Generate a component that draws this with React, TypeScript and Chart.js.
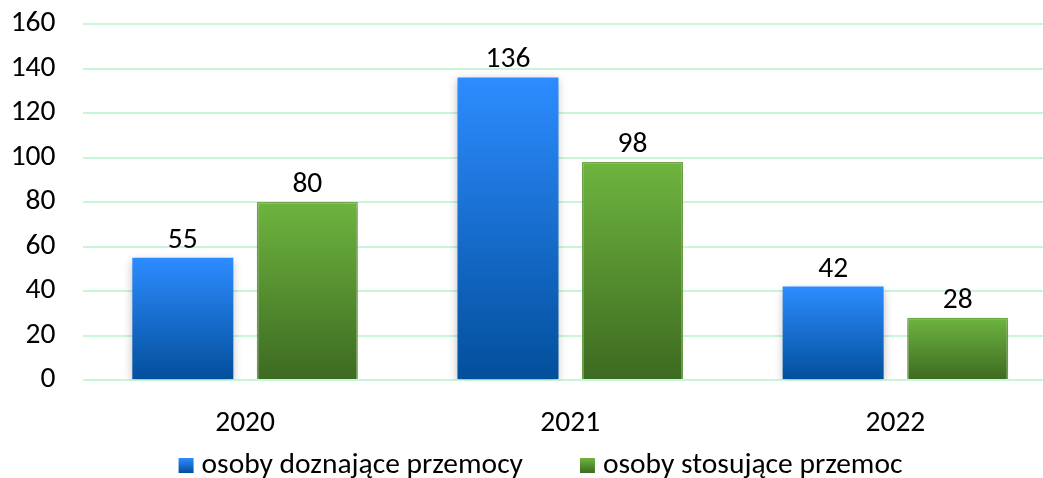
import React, { useEffect, useRef } from "react";
import { Chart, registerables } from "chart.js";

Chart.register(...registerables);

const categories = ["2020", "2021", "2022"];
const seriesNames = ["osoby doznające przemocy", "osoby stosujące przemoc"];
const victims = [55, 136, 42];
const perpetrators = [80, 98, 28];
const yTicks = [0, 20, 40, 60, 80, 100, 120, 140, 160];

const FONT = "Carlito, Lato, 'Open Sans', sans-serif";
const FS = 29.5;
const LEGEND_FS = 29.5;

const blueTop = "#2d8cff";
const blueBottom = "#024f9b";
const greenTop = "#6eb43f";
const greenBottom = "#3d6a21";

const barGradient = (top: string, bottom: string) => (c: any) => {
  const chart = c.chart;
  const ys = chart.scales && chart.scales.y;
  if (!chart.chartArea || !ys || c.raw === undefined) return bottom;
  const yTop = ys.getPixelForValue(c.raw);
  const yBase = ys.getPixelForValue(0);
  if (!isFinite(yTop) || !isFinite(yBase) || yTop === yBase) return bottom;
  const g = chart.ctx.createLinearGradient(0, yTop, 0, yBase);
  g.addColorStop(0, top);
  g.addColorStop(1, bottom);
  return g;
};

const labelPlugin = {
  id: "valueLabels",
  afterDatasetsDraw(chart: any) {
    const ctx = chart.ctx;
    ctx.save();
    ctx.font = `${FS}px ${FONT}`;
    ctx.fillStyle = "#000";
    ctx.textAlign = "center";
    ctx.textBaseline = "alphabetic";
    chart.data.datasets.forEach((ds: any, i: number) => {
      const meta = chart.getDatasetMeta(i);
      meta.data.forEach((bar: any, j: number) => {
        ctx.fillText(String(ds.data[j]), bar.x, bar.y - 10);
      });
    });
    ctx.restore();
  },
};

const shadowPlugin = {
  id: "barShadow",
  beforeDatasetsDraw(chart: any) {
    const ctx = chart.ctx;
    ctx.save();
    ctx.shadowColor = "rgba(0,0,0,0.28)";
    ctx.shadowBlur = 9;
    ctx.shadowOffsetX = 0;
    ctx.shadowOffsetY = 3;
  },
  afterDatasetsDraw(chart: any) {
    chart.ctx.restore();
  },
};

const legendPlugin = {
  id: "customLegend",
  afterDraw(chart: any) {
    const ctx = chart.ctx;
    const colors = [
      [blueTop, blueBottom],
      [greenTop, greenBottom],
    ];
    const box = 15;
    const boxGap = 8;
    const itemGap = 57;
    const centerX = 540.5;
    const baseline = 473;
    ctx.save();
    ctx.font = `${LEGEND_FS}px ${FONT}`;
    const widths = seriesNames.map((t) => ctx.measureText(t).width);
    const total = widths.reduce((a, w) => a + box + boxGap + w, 0) + itemGap * (seriesNames.length - 1);
    let x = centerX - total / 2;
    seriesNames.forEach((t, i) => {
      const by = baseline - box;
      const g = ctx.createLinearGradient(0, by, 0, by + box);
      g.addColorStop(0, colors[i][0]);
      g.addColorStop(1, colors[i][1]);
      ctx.fillStyle = g;
      ctx.fillRect(x, by, box, box);
      x += box + boxGap;
      ctx.fillStyle = "#000";
      ctx.textAlign = "left";
      ctx.textBaseline = "alphabetic";
      ctx.fillText(t, x, baseline);
      x += widths[i] + itemGap;
    });
    ctx.restore();
  },
};

export default function App() {
  const ref = useRef<HTMLCanvasElement>(null);
  useEffect(() => {
    if (!ref.current) return;
    const chart = new Chart(ref.current, {
      type: "bar",
      data: {
        labels: categories,
        datasets: [
          {
            label: seriesNames[0],
            data: victims,
            backgroundColor: barGradient(blueTop, blueBottom),
            borderWidth: 0,
            categoryPercentage: 0.766,
            barPercentage: 0.811,
          },
          {
            label: seriesNames[1],
            data: perpetrators,
            backgroundColor: barGradient(greenTop, greenBottom),
            borderColor: "#74b04c",
            borderWidth: 1.5,
            categoryPercentage: 0.766,
            barPercentage: 0.811,
          },
        ],
      },
      options: {
        responsive: false,
        animation: false,
        layout: { padding: { top: 24, right: 0, left: 0, bottom: 0 } },
        plugins: {
          tooltip: { enabled: false },
          legend: { display: false },
        },
        scales: {
          x: {
            grid: { display: false },
            border: { display: false },
            ticks: { font: { family: FONT, size: FS }, color: "#000", padding: 18 },
            afterFit: (s: any) => {
              s.height = 98;
              s.paddingLeft = 0;
              s.paddingRight = 0;
            },
          },
          y: {
            min: 0,
            max: 160,
            afterBuildTicks: (s: any) => {
              s.ticks = yTicks.map((v) => ({ value: v }));
            },
            afterFit: (s: any) => {
              s.width = 82.5;
              s.paddingTop = 0;
              s.paddingBottom = 0;
            },
            grid: { color: "#c9f5d9", lineWidth: 2, drawTicks: false },
            border: { display: false },
            ticks: { font: { family: FONT, size: FS }, color: "#000", padding: 27 },
          },
        },
      },
      plugins: [shadowPlugin, labelPlugin, legendPlugin],
    });
    return () => chart.destroy();
  }, []);
  return (
    <div style={{ position: "absolute", left: 0, top: 0, width: 1043, height: 478, overflow: "hidden", background: "#fff" }}>
      <canvas ref={ref} width={1058} height={478} style={{ display: "block" }} />
    </div>
  );
}
